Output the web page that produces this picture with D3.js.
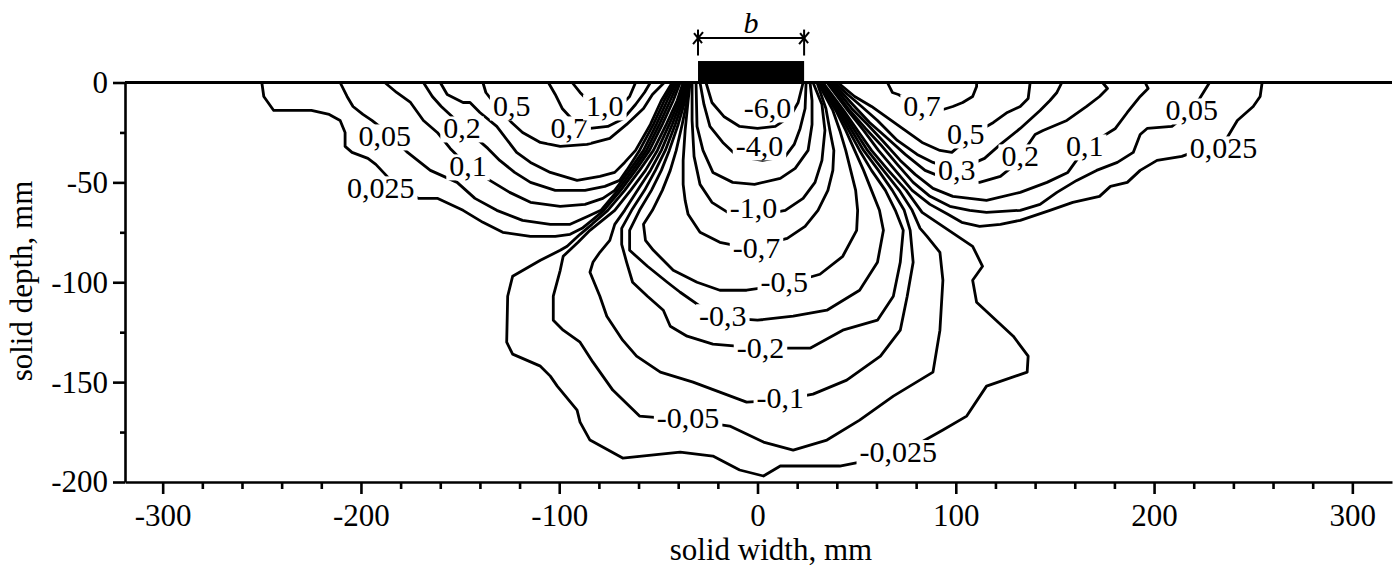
<!DOCTYPE html>
<html>
<head>
<meta charset="utf-8">
<script src="https://cdn.jsdelivr.net/npm/d3@7"></script>
<style>
body { margin: 0; background: #fff; }
svg { display: block; font-family: "Liberation Serif", "Times New Roman", serif; }
.contour { fill: none; stroke: #000; stroke-width: 2.8; stroke-linejoin: round; stroke-linecap: round; }
.lbl { font-size: 30px; fill: #000; }
.axis path, .axis line { stroke: #000; stroke-width: 2.6; }
.axis text { fill: #000; }
</style>
</head>
<body>
<svg width="1394" height="567"></svg>
<script>
"use strict"

// contour lines, [solid width mm, solid depth mm]
// positive values, left of the footing
const P_0025_L = [[-250,0],[-249,-7],[-244,-14],[-239,-14],[-225,-14],[-216,-16],[-210.5,-19],[-208,-25],[-208,-32],[-204.5,-35],[-196.5,-38],[-192.5,-41],[-183,-51],[-171,-58],[-161.5,-58],[-148.5,-64],[-138.5,-70],[-128.5,-75],[-114.5,-77],[-102,-77],[-94.5,-76],[-88.5,-73],[-83.5,-69],[-77.5,-64],[-69,-54],[-61.5,-44],[-54.5,-34],[-48,-21],[-42.5,-9],[-39,0]]
const P_005_L = [[-210.5,0],[-207,-7],[-204,-12],[-199,-16],[-194.5,-19],[-185.5,-26],[-176.5,-35],[-165,-44],[-151.5,-50],[-142.5,-58],[-131.5,-64],[-118.5,-69],[-104.5,-71],[-94.5,-71],[-85.5,-67],[-79,-64],[-70.5,-54],[-63,-44],[-56,-34],[-49.5,-21],[-44,-9],[-40,0]]
const P_01_L = [[-188,0],[-182,-5],[-175,-10],[-168.5,-19],[-161.5,-25],[-155,-33],[-146,-42],[-135,-49],[-125,-55],[-114.5,-60],[-99.5,-62],[-87,-61],[-78,-58],[-72,-54],[-64.5,-44],[-57.5,-34],[-51,-21],[-45.5,-9],[-41,0]]
const P_02_L = [[-168.5,0],[-164,-7],[-159.5,-12],[-147.5,-23],[-136,-33],[-130,-39],[-122.5,-45],[-114.5,-50],[-102,-54],[-87,-54],[-77,-52],[-69.5,-49],[-66,-44],[-59.5,-34],[-52.5,-21],[-47,-9],[-42,0]]
const P_03_L = [[-160,0],[-156.5,-6],[-148.5,-10],[-145,-10],[-140,-15],[-131.5,-22],[-121.5,-35],[-114.5,-40],[-104.5,-45],[-91,-49],[-79.5,-47],[-72,-45],[-67,-40],[-61.5,-34],[-54,-21],[-48.5,-9],[-43,0]]
const P_05_L = [[-138.5,0],[-137,-5],[-131.5,-12],[-124,-20],[-118.5,-25],[-109.5,-30],[-99.5,-32],[-86,-31],[-74.5,-28],[-66,-21],[-57.5,-13],[-53,-6],[-47,0]]
const P_07_L = [[-105.5,0],[-102,-6],[-98.5,-13],[-92,-20],[-84.5,-23],[-75.5,-22],[-67.5,-18],[-61.5,-11],[-57,-5],[-54,0]]
const P_1_L = [[-93.5,0],[-89.5,-5],[-84.5,-10],[-77,-14],[-69.5,-12],[-64.5,-7],[-61.5,0]]

// positive values, right of the footing
const P_0025_R = [[35,0],[45.5,-14],[53.5,-24],[61,-34],[69.5,-44],[78,-54],[87,-61],[96,-66],[103,-70],[112,-72],[122.5,-71],[132.5,-69],[147.5,-64],[159,-60],[172.5,-57],[178,-52],[186.5,-50],[193,-44],[201.5,-39],[214,-37],[236,-29],[242,-19],[250,-12],[253.5,-7],[254.5,0]]
const P_005_R = [[36,0],[46.5,-14],[54.5,-23],[62,-31],[70.5,-41],[78.5,-50],[87,-57],[97,-62],[107,-64],[115.5,-65],[132.5,-64],[142.5,-61],[151,-55],[161,-49],[171,-44],[181.5,-40],[189.5,-35],[193,-26],[196.5,-23],[209,-22],[218,-15],[223,-8],[228,0]]
const P_01_R = [[37,0],[47.5,-13],[55.5,-21],[63,-29],[72,-39],[79.5,-46],[88.5,-53],[98.5,-57],[115.5,-59],[132.5,-55],[146,-50],[156.5,-45],[164.5,-34],[172.5,-28],[180.5,-23],[186.5,-15],[193,-7],[197,-3],[195.5,0]]
const P_02_R = [[38,0],[48,-11],[56.5,-20],[64.5,-27],[74.5,-36],[84.5,-44],[97,-49],[112,-50],[122.5,-47],[127.5,-43],[132.5,-37],[140,-26],[144,-24],[156,-19],[166,-12],[172.5,-7],[176.5,-3],[174,0]]
const P_03_R = [[39,0],[45.5,-6],[52.5,-12],[60.5,-19],[70.5,-29],[80.5,-36],[88.5,-40],[100.5,-44],[114.5,-38],[122.5,-31],[132.5,-23],[142.5,-14],[147.5,-9],[151,-5],[153.5,0]]
const P_05_R = [[40.5,0],[49,-7],[57.5,-12],[66,-18],[74.5,-24],[83,-30],[92,-34],[98,-35],[105,-29],[112,-24],[119,-20],[126,-15],[132.5,-12],[136.5,-8],[137.5,0]]
const P_07_R = [[65.5,0],[68,-5],[71,-6],[82,-12],[92,-14],[98.5,-12],[103.5,-10],[108.5,-7],[110.5,-2],[110.5,0]]

// negative values under the footing
const N_6 = [[-26,0],[-23,-10],[-17,-17],[-9,-22],[0,-23],[9,-22],[16.5,-17],[20.5,-10],[23,0]]
const N_4 = [[-29,0],[-27,-11],[-24,-22],[-17.5,-30],[-10,-37],[2.5,-39],[14,-37],[18.5,-31],[21.5,-23],[24,-13],[24.5,0]]
const N_2 = [[-31,0],[-30.5,-22],[-27.5,-34],[-22.5,-45],[-12.5,-50],[-1.5,-51],[11.5,-48],[19,-43],[25.5,-34],[27.5,-21],[27.5,-9],[26.5,0]]
const N_1 = [[-33,0],[-33,-19],[-32,-37],[-29,-51],[-23,-60],[-15,-65],[-1.5,-67],[14,-64],[23,-58],[29,-50],[32.5,-39],[34,-24],[32.5,-11],[28,0]]
const N_07 = [[-34,0],[-35,-9],[-36.5,-24],[-37.5,-39],[-37.5,-51],[-36.5,-59],[-35,-66],[-29,-75],[-19,-80],[-4,-83],[15,-78],[24,-72],[30.5,-64],[35.5,-54],[38,-44],[38.5,-34],[36.5,-24],[34.5,-13],[30,0]]
const N_05 = [[-35,0],[-35.5,-9],[-38,-21],[-41,-34],[-44,-44],[-48,-54],[-53,-64],[-57.5,-71],[-56.5,-79],[-52.5,-84],[-42.5,-94],[-30.5,-100],[-19,-104],[-5.5,-104],[14,-101],[31.5,-96],[43,-87],[50,-74],[50.5,-64],[49.5,-54],[47,-44],[44.5,-34],[41.5,-24],[38,-14],[30.5,0]]
const N_03 = [[-35.5,0],[-36.5,-9],[-40,-21],[-44.5,-34],[-48.5,-44],[-53.5,-54],[-59.5,-64],[-64.5,-74],[-64.5,-84],[-55.5,-92],[-45.5,-100],[-39,-105],[-29,-112],[-14,-118],[0,-119],[18,-117],[35,-114],[51.5,-104],[60.5,-90],[63.5,-74],[61.5,-64],[57.5,-54],[53.5,-44],[49,-34],[44.5,-24],[39.5,-14],[31,0]]
const N_02 = [[-36,0],[-37.5,-9],[-41.5,-21],[-46.5,-34],[-51.5,-44],[-57,-54],[-63.5,-64],[-68.5,-73],[-68.5,-81],[-66,-90],[-63,-100],[-55.5,-107],[-47.5,-114],[-44,-122],[-35.5,-127],[-22.5,-131],[1.5,-133],[26.5,-133],[43,-124],[60.5,-119],[68.5,-107],[72,-90],[73.5,-74],[69.5,-64],[64.5,-54],[57.5,-44],[51.5,-34],[46,-24],[40.5,-14],[31.5,0]]
const N_01 = [[-36.5,0],[-38.5,-9],[-43,-21],[-48.5,-34],[-54,-44],[-60.5,-54],[-67,-64],[-72,-71],[-74.5,-79],[-79.5,-85],[-83,-90],[-84.5,-95],[-79.5,-107],[-76,-117],[-68,-129],[-61,-137],[-49,-145],[-32.5,-150],[-19,-155],[-5.5,-160],[11.5,-159],[28,-156],[45,-149],[62,-137],[72,-124],[75.5,-107],[78.5,-90],[77,-74],[74,-64],[68,-54],[61,-44],[53.5,-34],[47.5,-24],[41.5,-14],[32,0]]
const N_005 = [[-37,0],[-39.5,-9],[-44.5,-21],[-50.5,-34],[-56.5,-44],[-64,-54],[-72,-64],[-79.5,-70],[-84.5,-74],[-90.5,-80],[-98,-87],[-99.5,-94],[-103,-107],[-103,-119],[-98,-124],[-89.5,-130],[-83,-140],[-73,-154],[-59.5,-167],[-35,-169],[-14,-172],[3,-180],[18,-184],[35,-179],[51.5,-169],[68.5,-157],[88.5,-145],[92,-124],[93.5,-99],[92,-85],[85.5,-77],[82,-73],[78,-64],[71.5,-54],[63.5,-44],[55.5,-34],[49,-24],[42.5,-14],[32.5,0]]
const N_0025 = [[-37.5,0],[-40.5,-9],[-46,-21],[-52.5,-34],[-59.5,-44],[-67,-54],[-75.5,-64],[-83.5,-71],[-89.5,-76],[-96,-82],[-99.5,-84],[-109.5,-89],[-123.5,-97],[-126,-107],[-126.5,-130],[-123.5,-136],[-109.5,-142],[-104.5,-147],[-101,-152],[-91,-164],[-89.5,-170],[-84.5,-179],[-68,-188],[-39,-185],[-22.5,-187],[-9,-194],[3,-197],[11.5,-192],[41.5,-192],[72,-186],[93.5,-174],[105.5,-167],[115.5,-152],[136,-145],[136.5,-137],[129,-127],[110.5,-110],[108.5,-99],[113.5,-92],[108.5,-82],[101,-77],[92,-71],[83,-65],[75,-54],[66,-44],[57.5,-34],[50.5,-24],[43.5,-14],[33,0]]

// contour labels
const labelText = ["0,025","0,05","0,1","0,2","0,5","0,7","1,0",
  "-6,0","-4,0","-1,0","-0,7","-0,5","-0,3","-0,2","-0,1","-0,05","-0,025",
  "0,7","0,5","0,3","0,2","0,1","0,05","0,025"]
const labelX = [-190,-188,-146,-149,-124,-95,-77,
  5,1,-2,-0.5,13.5,-17.5,1.5,11.5,-35,71,
  83,105,100.5,132.5,165,219,235]
const labelY = [-53,-27,-42,-23,-12,-23,-12,
  -13,-32,-63,-83,-100,-117,-133,-158,-168,-185,
  -12,-26,-44,-37,-32,-14,-33]

// footing of width b
const footingX = [-30, 23.5]
const footingTop = 10.75

// axes
const xMajor = [-300,-200,-100,0,100,200,300]
const xMinor = [-280,-260,-240,-220,-180,-160,-140,-120,-80,-60,-40,-20,20,40,60,80,120,140,160,180,220,240,260,280]
const yMajor = [0,-50,-100,-150,-200]
const yMinor = [-25,-75,-125,-175]

const contours = [
  {level: 0.025, pts: P_0025_L}, {level: 0.05, pts: P_005_L}, {level: 0.1, pts: P_01_L},
  {level: 0.2, pts: P_02_L}, {level: 0.3, pts: P_03_L}, {level: 0.5, pts: P_05_L},
  {level: 0.7, pts: P_07_L}, {level: 1.0, pts: P_1_L},
  {level: 0.025, pts: P_0025_R}, {level: 0.05, pts: P_005_R}, {level: 0.1, pts: P_01_R},
  {level: 0.2, pts: P_02_R}, {level: 0.3, pts: P_03_R}, {level: 0.5, pts: P_05_R},
  {level: 0.7, pts: P_07_R},
  {level: -6, pts: N_6}, {level: -4, pts: N_4}, {level: -2, pts: N_2}, {level: -1, pts: N_1},
  {level: -0.7, pts: N_07}, {level: -0.5, pts: N_05}, {level: -0.3, pts: N_03},
  {level: -0.2, pts: N_02}, {level: -0.1, pts: N_01}, {level: -0.05, pts: N_005},
  {level: -0.025, pts: N_0025}
]

let svg = d3.select("svg")

let x = d3.scaleLinear().domain([-319, 320]).range([125, 1392])
let y = d3.scaleLinear().domain([-200, 0]).range([482, 82.5])

let line = d3.line()
  .x(d => x(d[0]))
  .y(d => y(d[1]))

svg.append("g")
  .selectAll("path")
  .data(contours)
  .enter().append("path")
    .attr("class", "contour")
    .attr("d", d => line(d.pts))

// x axis
let gx = svg.append("g")
  .attr("class", "axis")
  .attr("transform", "translate(0," + y(-200) + ")")
  .call(d3.axisBottom(x).tickValues(xMajor).tickSize(12).tickSizeOuter(0).tickFormat(d => String(d)))
gx.attr("font-size", 31).attr("font-family", null)
gx.selectAll("text").attr("y", 22)

svg.append("g")
  .attr("class", "axis")
  .attr("transform", "translate(0," + y(-200) + ")")
  .call(d3.axisBottom(x).tickValues(xMinor).tickSize(7).tickFormat(""))
  .select(".domain").remove()

// y axis
let gy = svg.append("g")
  .attr("class", "axis")
  .attr("transform", "translate(" + x(-319) + ",0)")
  .call(d3.axisLeft(y).tickValues(yMajor).tickSize(12).tickSizeOuter(0).tickFormat(d => String(d)))
gy.attr("font-size", 31).attr("font-family", null)
gy.selectAll("text").attr("x", -17)

svg.append("g")
  .attr("class", "axis")
  .attr("transform", "translate(" + x(-319) + ",0)")
  .call(d3.axisLeft(y).tickValues(yMinor).tickSize(5).tickFormat(""))
  .select(".domain").remove()

// solid surface
svg.append("line")
  .attr("x1", x(-319)).attr("x2", x(320))
  .attr("y1", y(0)).attr("y2", y(0))
  .attr("stroke", "#000").attr("stroke-width", 3)

// footing
svg.append("rect")
  .attr("x", x(footingX[0]))
  .attr("y", y(footingTop))
  .attr("width", x(footingX[1]) - x(footingX[0]))
  .attr("height", y(0) - y(footingTop))
  .attr("fill", "#000")

// dimension b
let dim = svg.append("g").attr("stroke", "#000").attr("stroke-width", 2)
footingX.forEach(fx => {
  dim.append("line")
    .attr("x1", x(fx)).attr("x2", x(fx))
    .attr("y1", y(26.5)).attr("y2", y(13.5))
  dim.append("line")
    .attr("x1", x(fx) - 5).attr("x2", x(fx) + 5)
    .attr("y1", y(22.25) + 6).attr("y2", y(22.25) - 6)
  dim.append("line")
    .attr("x1", x(fx) - 4).attr("x2", x(fx) + 4)
    .attr("y1", y(22.25) - 5).attr("y2", y(22.25) + 5)
})
dim.append("line")
  .attr("x1", x(footingX[0])).attr("x2", x(footingX[1]))
  .attr("y1", y(22.25)).attr("y2", y(22.25))

svg.append("text")
  .attr("x", x(-3.3)).attr("y", y(24.75))
  .attr("text-anchor", "middle")
  .attr("font-size", 30)
  .attr("font-style", "italic")
  .text("b")

// contour labels, each on a white patch that cuts its line
let labels = svg.append("g")
  .selectAll("g")
  .data(labelText)
  .enter().append("g")
    .attr("transform", (d, i) => "translate(" + x(labelX[i]) + "," + y(labelY[i]) + ")")

labels.append("text")
  .attr("class", "lbl")
  .attr("text-anchor", "middle")
  .attr("y", 10)
  .text(d => d)

labels.each(function () {
  let g = d3.select(this)
  let bb = g.select("text").node().getBBox()
  g.insert("rect", "text")
    .attr("x", bb.x - 3)
    .attr("y", bb.y + 5)
    .attr("width", bb.width + 6)
    .attr("height", bb.height - 7)
    .attr("fill", "#fff")
})

// axis titles
svg.append("text")
  .attr("x", 771).attr("y", 560)
  .attr("text-anchor", "middle")
  .attr("font-size", 31)
  .text("solid width, mm")

svg.append("text")
  .attr("transform", "translate(32,281) rotate(-90)")
  .attr("text-anchor", "middle")
  .attr("font-size", 31)
  .text("solid depth, mm")
</script>
</body>
</html>
